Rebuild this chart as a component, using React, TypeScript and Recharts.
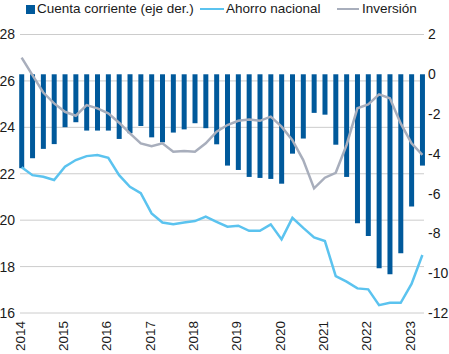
import { Bar, CartesianGrid, ComposedChart, Line, XAxis, YAxis } from 'recharts';

const years = [2014, 2015, 2016, 2017, 2018, 2019, 2020, 2021, 2022, 2023];

// cuenta corriente, % del PIB (eje der.)
const cuentaCorriente = [
  -4.72, -4.22, -3.75, -3.51, -2.66, -2.41, -2.83, -2.83, -2.83, -3.25,
  -2.97, -2.6, -3.17, -3.42, -2.93, -2.77, -2.46, -2.71, -3.52, -4.59,
  -4.81, -5.16, -5.21, -5.26, -5.5, -3.99, -3.23, -1.94, -2.03, -3.54,
  -5.16, -7.49, -8.13, -9.75, -10.05, -9.0, -6.65, -4.59,
];

const ahorroNacional = [
  22.28, 21.94, 21.87, 21.73, 22.3, 22.59, 22.76, 22.81, 22.69, 21.94,
  21.44, 21.16, 20.29, 19.9, 19.82, 19.9, 19.96, 20.15, 19.93, 19.72,
  19.76, 19.54, 19.54, 19.82, 19.17, 20.1, 19.67, 19.26, 19.1, 17.59,
  17.35, 17.06, 17.02, 16.34, 16.44, 16.44, 17.25, 18.5,
];

const inversion = [
  27.0, 26.25, 25.5, 25.03, 24.67, 24.5, 24.96, 24.82, 24.6, 24.2,
  23.74, 23.31, 23.19, 23.31, 22.95, 22.98, 22.95, 23.31, 23.81, 24.1,
  24.28, 24.34, 24.28, 24.46, 24.03, 23.45, 22.59, 21.37, 21.83, 22.04,
  23.24, 24.82, 24.99, 25.42, 25.25, 24.17, 23.31, 22.81,
];

const leftTicks = [16, 18, 20, 22, 24, 26, 28];
const rightTicks = [-12, -10, -8, -6, -4, -2, 0, 2];

const data = cuentaCorriente.map((cuenta, i) => ({
  t: i,
  trimestre: `${years[Math.floor(i / 4)]}T${(i % 4) + 1}`,
  cuenta,
  ahorro: ahorroNacional[i],
  inversion: inversion[i],
}));

// year labels sit on the start of each year, a bit left of Q1
const yearTicks = years.map((_, k) => k * 4 - 0.15);

const FONT = "'Liberation Sans', Arial, sans-serif";
const BLUE = '#00599b';
const LIGHT = '#5bc3ef';
const GRAY = '#a8aebc';

function YearTick({ x, y, payload }: any) {
  const year = years[Math.round((payload.value + 0.15) / 4)];
  return (
    <g transform={`translate(${x},${y})`}>
      <text
        transform="rotate(-90)"
        x={-8}
        dy="0.35em"
        textAnchor="end"
        fontSize={13.5}
        fontFamily={FONT}
        fill="#1a1a1a"
      >
        {year}
      </text>
    </g>
  );
}

function LegendBar() {
  const text = {
    position: 'absolute' as const,
    top: 1,
    fontSize: 13.5,
    fontFamily: FONT,
    color: '#1a1a1a',
    lineHeight: '16px',
    whiteSpace: 'nowrap' as const,
  };
  return (
    <>
      <div style={{ position: 'absolute', left: 26, top: 5, width: 9, height: 9, background: BLUE }} />
      <span style={{ ...text, left: 37 }}>Cuenta corriente (eje der.)</span>
      <div style={{ position: 'absolute', left: 200, top: 8, width: 24, height: 2, background: LIGHT }} />
      <span style={{ ...text, left: 226 }}>Ahorro nacional</span>
      <div style={{ position: 'absolute', left: 337, top: 8, width: 22, height: 2, background: GRAY }} />
      <span style={{ ...text, left: 362 }}>Inversión</span>
    </>
  );
}

export default function App() {
  return (
    <div style={{ position: 'absolute', left: 0, top: 0, width: 449, height: 354, background: '#fff' }}>
      <ComposedChart width={449} height={354} data={data} margin={{ top: 34.5, right: 0, bottom: 0, left: 0 }}>
        <CartesianGrid yAxisId="left" vertical={false} stroke="#cccccc" />
        <XAxis
          dataKey="t"
          type="number"
          domain={[-0.15, 37.15]}
          ticks={yearTicks}
          interval={0}
          tick={<YearTick />}
          tickLine={false}
          axisLine={false}
          tickSize={0}
          tickMargin={0}
          height={41}
        />
        <YAxis
          yAxisId="left"
          domain={[16, 28]}
          ticks={leftTicks}
          width={20}
          tickLine={false}
          axisLine={false}
          tickSize={0}
          tickMargin={5}
          tick={{ fontSize: 14, fontFamily: FONT, fill: '#1a1a1a' }}
        />
        <YAxis
          yAxisId="right"
          orientation="right"
          domain={[-12, 2]}
          ticks={rightTicks}
          width={25}
          tickLine={false}
          axisLine={false}
          tickSize={0}
          tickMargin={4}
          tick={{ fontSize: 14, fontFamily: FONT, fill: '#1a1a1a' }}
        />
        <Bar yAxisId="right" dataKey="cuenta" fill={BLUE} barSize={5} isAnimationActive={false} />
        <Line yAxisId="left" dataKey="ahorro" stroke={LIGHT} strokeWidth={2.5} dot={false} isAnimationActive={false} />
        <Line yAxisId="left" dataKey="inversion" stroke={GRAY} strokeWidth={2.5} dot={false} isAnimationActive={false} />
      </ComposedChart>
      <LegendBar />
    </div>
  );
}
